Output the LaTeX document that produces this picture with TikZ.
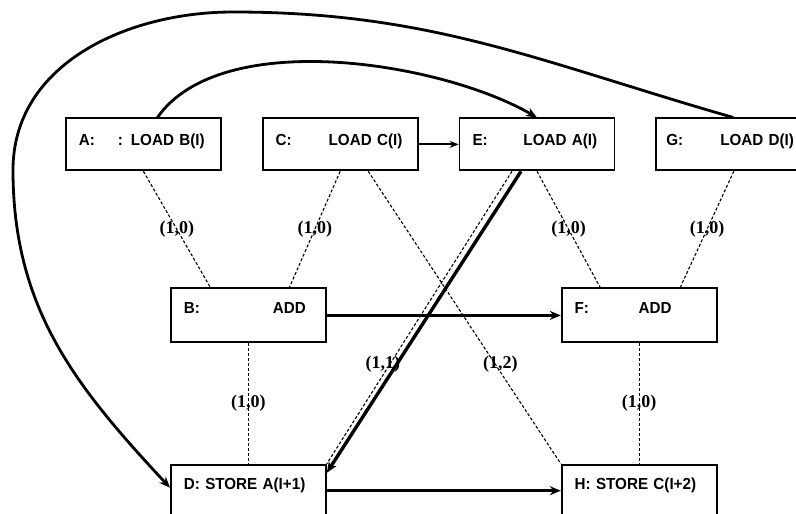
\documentclass[tikz,border=0pt]{standalone}
\usepackage{fontspec}
\setmainfont{Liberation Serif}
\newfontfamily\stmtfont[FakeStretch=0.95]{Liberation Sans}
\usetikzlibrary{positioning,arrows.meta}

\newcommand{\tagcol}[2]{\makebox[#1][l]{#2}}

\begin{document}
\begin{tikzpicture}[
    x=1pt, y=1pt,
    node distance=40pt,
    stmt/.style={
        draw,
        line width=1.8pt,
        rectangle,
        anchor=north west,
        text width=129pt,
        align=left,
        inner xsep=13pt,
        inner ysep=0pt,
        font=\stmtfont\bfseries\fontsize{16}{18}\selectfont
    },
    toprow/.style={stmt, text height=27.5pt, text depth=24.5pt},
    midrow/.style={stmt, text height=25pt, text depth=29pt},
    lowrow/.style={stmt, text height=25pt, text depth=31pt},
    dep/.style={
        densely dashed,
        line width=1.1pt
    },
    flow/.style={
        ->,
        line width=3.4pt,
        >={Stealth[length=11pt,width=9pt]}
    },
    vec/.style={
        font=\bfseries\fontsize{18}{20}\selectfont,
        inner sep=0pt
    }
]
\useasboundingbox (0,0) rectangle (796,514);

% Statements
\node [toprow] (a) at (65,396.5) {\tagcol{39pt}{A:}: LOAD B(I)};
\node [toprow, right=of a] (c) {\tagcol{53pt}{C:}LOAD C(I)};
\node [toprow, right=of c] (e) {\tagcol{51pt}{E:}LOAD A(I)};
\node [toprow, right=of e, text width=125pt, inner xsep=10pt] (g) {\mbox{\tagcol{54pt}{G:}LOAD D(I)}};
\node [midrow] (b) at (170,226.5) {\tagcol{89pt}{B:}ADD};
\node [midrow, right=234pt of b] (f) {\tagcol{64pt}{F:}ADD};
\node [lowrow, below=120.5pt of b] (d) {D: STORE A(I+1)};
\node [lowrow, right=234pt of d] (h) {H: STORE C(I+2)};

% Dependences
\draw [dep] (a.south) -- node[vec] {(1,0)} ([xshift=-38pt]b.north);
\draw [dep] (c.south) -- node[vec] {(1,0)} ([xshift=41pt]b.north);
\draw [dep] ([xshift=28pt]c.south) -- node[vec, pos=0.66, xshift=5pt] {(1,2)} (h.north west);
\draw [dep] ([xshift=-25pt]e.south) -- node[vec, pos=0.66, xshift=-7pt] {(1,1)} (d.north east);
\draw [dep] (e.south) -- node[vec] {(1,0)} ([xshift=-39pt]f.north);
\draw [dep] ([xshift=5pt]g.south) -- node[vec] {(1,0)} ([xshift=41pt]f.north);
\draw [dep] (b) -- node[vec] {(1,0)} (d);
\draw [dep] (f) -- node[vec] {(1,0)} (h);

% Flow
\coordinate (crest) at (233,502);
\coordinate (bend) at (13,344);
\draw [flow, line width=2.2pt, >={Stealth[length=9pt,width=7pt]}] (c) -- (e);
\draw [flow] (b) -- (f);
\draw [flow] ([yshift=2pt]d.east) -- ([yshift=2pt]h.west);
\draw [flow] ([xshift=-16pt]e.south) -- ([yshift=-9pt]d.north east);
\draw [flow, line width=2.8pt] ([xshift=14pt]a.north) to[out=55,in=150,looseness=0.75] (e.north);
\draw [flow, line width=2.8pt] ([xshift=4.5pt]g.north) to[out=164,in=0] (crest)
    to[out=180,in=90] (bend) to[out=-90,in=133] ([yshift=5pt]d.west);

\end{tikzpicture}
\end{document}
